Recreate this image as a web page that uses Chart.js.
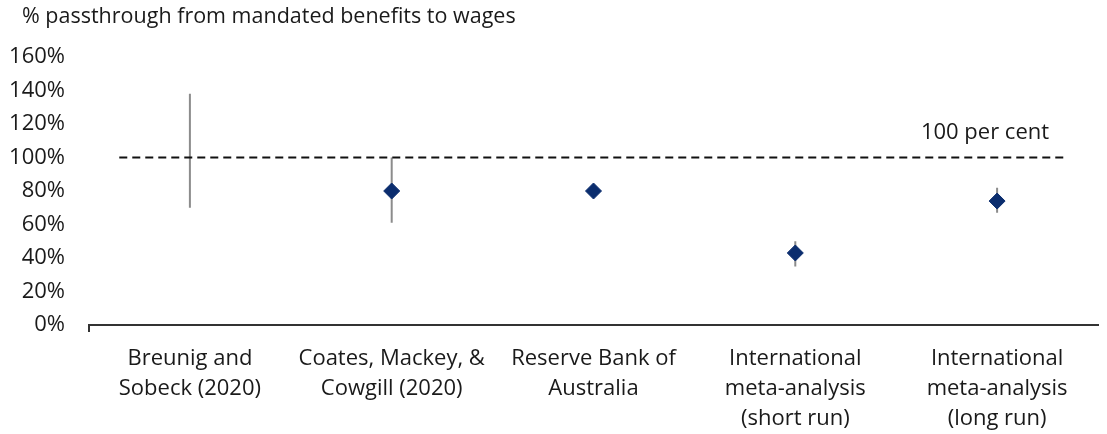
<!DOCTYPE html>
<html>
<head>
<meta charset="utf-8">
<script src="https://cdn.jsdelivr.net/npm/chart.js@4.4.1/dist/chart.umd.min.js"></script>
<style>
  html, body { margin: 0; padding: 0; background: #fff; }
  #wrap { width: 1107px; height: 434px; position: relative; }
</style>
</head>
<body>
<div id="wrap"><canvas id="passthrough-canvas"></canvas></div>
<script>
// categories on the x axis (one entry per study, split into lines)
const categories = [
  ["Breunig and", "Sobeck (2020)"],
  ["Coates, Mackey, &", "Cowgill (2020)"],
  ["Reserve Bank of", "Australia"],
  ["International", "meta-analysis", "(short run)"],
  ["International", "meta-analysis", "(long run)"],
];

// point estimates and ranges, % passthrough
const pointEstimates = [null, 80, 80, 43, 74];
const rangeLow = [70, 61, null, 35, 67];
const rangeHigh = [138, 100, null, 50, 82];

const yTicks = [0, 20, 40, 60, 80, 100, 120, 140, 160];

const referenceValue = 100;
const referenceLabel = "100 per cent";
const referenceSpan = [-0.35, 4.34];

const titleText = "% passthrough from mandated benefits to wages";

const FONT = "'Open Sans', 'DejaVu Sans', sans-serif";
const TEXT = "#1a1a1a";

const rangeData = [];
rangeLow.forEach((lo, i) => {
  if (lo === null) return;
  rangeData.push({ x: i, y: lo });
  rangeData.push({ x: i, y: rangeHigh[i] });
  rangeData.push({ x: i, y: null });
});

const pointData = pointEstimates
  .map((v, i) => ({ x: i, y: v }))
  .filter((p) => p.y !== null);

const referenceData = referenceSpan.map((x) => ({ x: x, y: referenceValue }));

// title and "100 per cent" note
const textPlugin = {
  id: "chartText",
  afterDatasetsDraw(chart) {
    const ctx = chart.ctx;
    const xs = chart.scales.x;
    const ys = chart.scales.y;
    ctx.save();
    ctx.fillStyle = TEXT;
    ctx.textBaseline = "middle";

    ctx.font = "21.5px " + FONT;
    ctx.textAlign = "left";
    ctx.fillText(titleText, 22, 17);

    ctx.font = "22px " + FONT;
    ctx.textAlign = "center";
    ctx.fillText(referenceLabel, xs.getPixelForValue(3.94), ys.getPixelForValue(referenceValue) - 25);
    ctx.restore();
  },
};

const ctx = document.getElementById("passthrough-canvas").getContext("2d");

new Chart(ctx, {
  type: "scatter",
  data: {
    datasets: [
      {
        label: "Estimate",
        data: pointData,
        showLine: false,
        pointStyle: "rectRot",
        pointRadius: 8,
        backgroundColor: "#0b2d6e",
        borderColor: "#0b2d6e",
        borderWidth: 1,
        order: 0,
      },
      {
        label: "100 per cent",
        data: referenceData,
        showLine: true,
        borderColor: "#111",
        borderWidth: 2,
        borderDash: [8, 5],
        pointRadius: 0,
        order: 1,
      },
      {
        label: "Range",
        data: rangeData,
        showLine: true,
        spanGaps: false,
        borderColor: "#8c8c8c",
        borderWidth: 2,
        pointRadius: 0,
        order: 2,
      },
    ],
  },
  plugins: [textPlugin],
  options: {
    responsive: true,
    maintainAspectRatio: false,
    animation: false,
    events: [],
    layout: {
      padding: { left: 0, right: 2, top: 57, bottom: 0 },
    },
    plugins: {
      legend: { display: false },
      tooltip: { enabled: false },
      title: { display: false },
    },
    scales: {
      x: {
        type: "linear",
        min: -0.5,
        max: 4.5,
        afterBuildTicks(scale) {
          scale.ticks = [-0.5, 0, 1, 2, 3, 4].map((v) => ({ value: v }));
        },
        afterFit(scale) {
          scale.height = 109;
        },
        ticks: {
          autoSkip: false,
          maxRotation: 0,
          minRotation: 0,
          padding: 12,
          color: TEXT,
          font: { family: FONT, size: 22, lineHeight: 1.36 },
          callback: (value) => (Number.isInteger(value) ? categories[value] : ""),
        },
        grid: {
          display: true,
          drawOnChartArea: false,
          drawTicks: true,
          tickLength: 7,
          lineWidth: 2,
          color: (c) => (c.tick && c.tick.value === -0.5 ? "#333" : "rgba(0,0,0,0)"),
        },
        border: { display: true, color: "#333", width: 2 },
      },
      y: {
        min: 0,
        max: 160,
        afterBuildTicks(scale) {
          scale.ticks = yTicks.map((v) => ({ value: v }));
        },
        afterFit(scale) {
          scale.width = 89;
        },
        ticks: {
          padding: 24,
          color: TEXT,
          font: { family: FONT, size: 22 },
          callback: (value) => value + "%",
        },
        grid: { display: false, drawTicks: false },
        border: { display: false },
      },
    },
  },
});
</script>
</body>
</html>
